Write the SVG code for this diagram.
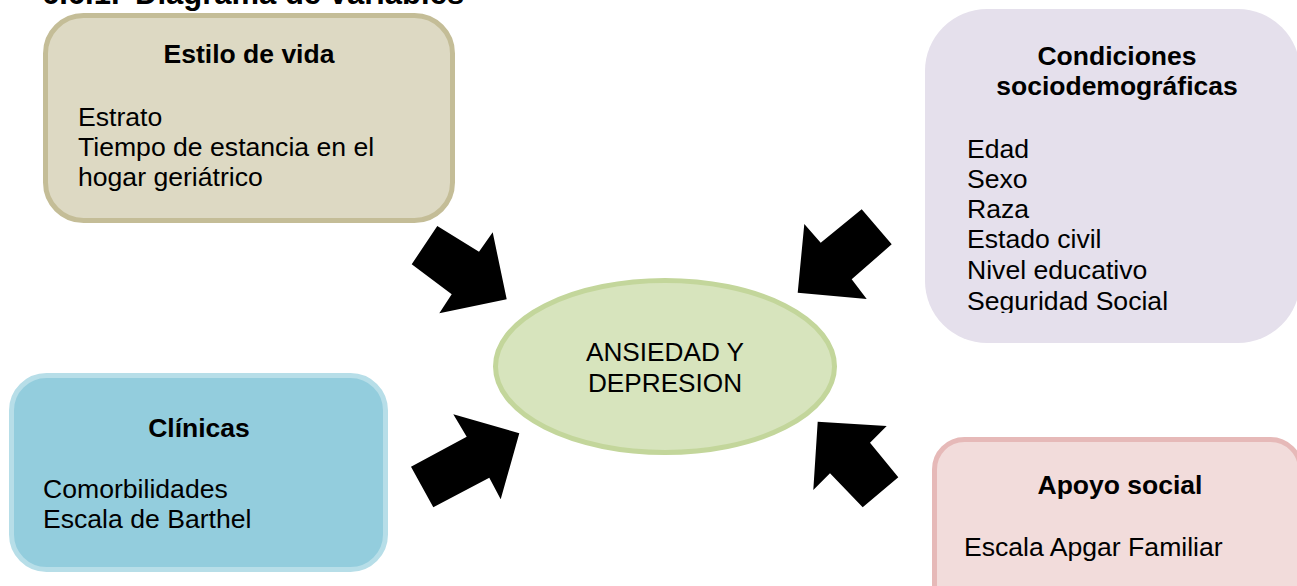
<svg xmlns="http://www.w3.org/2000/svg" width="1297" height="586" viewBox="0 0 1297 586">
  <style>
    text { font-family: "Liberation Sans", Arial, sans-serif; fill: #000; }
    .h { font-size: 26.5px; font-weight: bold; text-anchor: middle; }
    .b { font-size: 26.6px; }
    .c { font-size: 26.2px; text-anchor: middle; }
    .arrow { fill: #000; }
  </style>
  <defs>
    <clipPath id="clipCond">
      <rect x="900" y="0" width="397" height="313"/>
    </clipPath>
  </defs>
  <rect x="0" y="0" width="1297" height="586" fill="#fff"/>
  <text x="42" y="4" font-size="31" font-weight="bold"><tspan>6.6.1.</tspan><tspan x="135">Diagrama de variables</tspan></text>

  <g id="estilo-de-vida">
    <rect x="45.5" y="15.5" width="407" height="205" rx="38" fill="#ddd9c3" stroke="#c4bd97" stroke-width="5"/>
    <text class="h" x="249" y="63">Estilo de vida</text>
    <text class="b" x="78" y="126">Estrato</text>
    <text class="b" x="78" y="156">Tiempo de estancia en el</text>
    <text class="b" x="78" y="186">hogar geriátrico</text>
  </g>

  <g id="condiciones">
    <rect x="925" y="9" width="375" height="334" rx="62" fill="#e5e0ec"/>
    <text class="h" x="1117" y="65">Condiciones</text>
    <text class="h" x="1117" y="95">sociodemográficas</text>
    <g clip-path="url(#clipCond)">
      <text class="b" x="967" y="158">Edad</text>
      <text class="b" x="967" y="188">Sexo</text>
      <text class="b" x="967" y="218">Raza</text>
      <text class="b" x="967" y="248">Estado civil</text>
      <text class="b" x="967" y="279">Nivel educativo</text>
      <text class="b" x="967" y="310">Seguridad Social</text>
    </g>
  </g>

  <g id="clinicas">
    <rect x="11.5" y="375.5" width="374" height="194" rx="35" fill="#93cddd" stroke="#b7dee8" stroke-width="5"/>
    <text class="h" x="199" y="437">Clínicas</text>
    <text class="b" x="43" y="498">Comorbilidades</text>
    <text class="b" x="43" y="528">Escala de Barthel</text>
  </g>

  <g id="apoyo-social">
    <rect x="934.5" y="439.5" width="366" height="200" rx="30" fill="#f2dcdb" stroke="#e6b9b8" stroke-width="5"/>
    <text class="h" x="1120" y="494">Apoyo social</text>
    <text class="b" x="964" y="556">Escala Apgar Familiar</text>
  </g>

  <g id="ansiedad-depresion">
    <ellipse cx="665" cy="366.5" rx="169.5" ry="86" fill="#d7e4bd" stroke="#c3d69b" stroke-width="5"/>
    <text class="c" x="665" y="361">ANSIEDAD Y</text>
    <text class="c" x="665" y="392">DEPRESION</text>
  </g>

  <g id="connectors">
    <polygon class="arrow" points="411.7,264.3 437.3,226 479,251.7 492.7,232.3 506.7,299.3 439.3,313.3 451.7,294.3"/>
    <polygon class="arrow" points="861.7,209.3 891.7,244.3 851.7,279.3 866.7,299 797.7,292.7 804.3,224 820.7,242.7"/>
    <polygon class="arrow" points="411,466.7 433.3,507.3 489.3,477.7 500.7,499.3 519.3,433.3 453.3,414.3 466.7,436.7"/>
    <polygon class="arrow" points="898.3,477.3 862.7,507.3 830,473.3 813.3,490 817.7,421.7 886.7,426 870,442.7"/>
  </g>
</svg>
